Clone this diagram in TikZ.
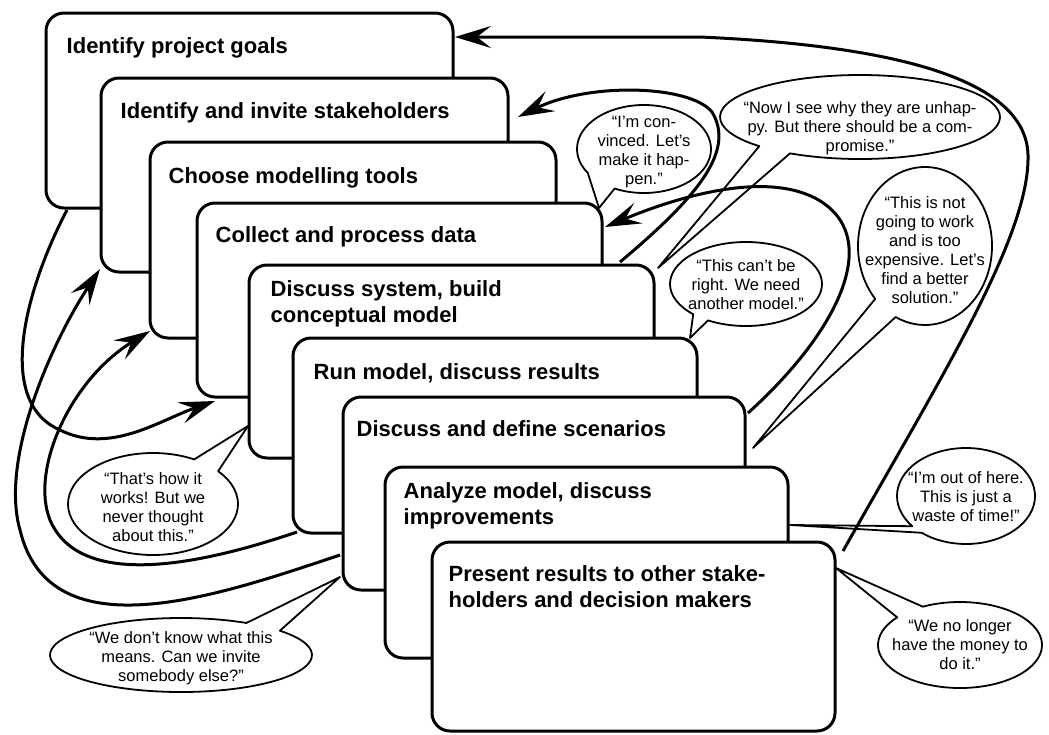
\documentclass[tikz,border=0pt]{standalone}
\usepackage{fontspec}
\setmainfont{Liberation Sans}
\usetikzlibrary{arrows.meta,calc}
\pgfdeclarelayer{bubbles}
\pgfdeclarelayer{links}
\pgfsetlayers{bubbles,links,main}
\begin{document}
\begin{tikzpicture}[x=1pt,y=-1pt,
  box/.style={draw, line width=3pt, fill=white, rounded corners=18pt, anchor=north west, inner sep=0pt, outer sep=0pt},
  boxtext/.style={anchor=north west, inner sep=0pt, font=\fontsize{22}{26}\selectfont\bfseries, align=left},
  bubble/.style={draw, line width=1.8pt, fill=white, line join=round},
  saying/.style={inner sep=0pt, anchor=north, align=center, font=\fontsize{16.5}{19}\selectfont},
  fback/.style={line width=3pt, -{Stealth[length=36pt,width=22pt,inset=14pt]}}]
\useasboundingbox (0,0) rectangle (1049,734);

% stacked process boxes
\node[box, minimum width=407pt, minimum height=195pt] (b1) at (46,13) {};
\node[boxtext] (t1) at (66.5,37) {Identify project goals};
\node[box, minimum width=407pt, minimum height=194pt] (b2) at (101,78) {};
\node[boxtext] (t2) at (120.5,102) {Identify and invite stakeholders};
\node[box, minimum width=406pt, minimum height=196pt] (b3) at (150,142) {};
\node[boxtext] (t3) at (168.5,167) {Choose modelling tools};
\node[box, minimum width=405pt, minimum height=194pt] (b4) at (197,203) {};
\node[boxtext] (t4) at (215.5,226) {Collect and process data};
\node[box, minimum width=405pt, minimum height=193pt] (b5) at (249,265) {};
\node[boxtext] (t5) at (270.5,280) {Discuss system, build\\conceptual model};
\node[box, minimum width=404pt, minimum height=195pt] (b6) at (293,338) {};
\node[boxtext] (t6) at (313.5,363) {Run model, discuss results};
\node[box, minimum width=402pt, minimum height=193pt] (b7) at (343,397) {};
\node[boxtext] (t7) at (356.5,420) {Discuss and define scenarios};
\node[box, minimum width=403pt, minimum height=191pt] (b8) at (385,467) {};
\node[boxtext] (t8) at (403.5,482) {Analyze model, discuss\\improvements};
\node[box, minimum width=403pt, minimum height=189pt] (b9) at (432,542) {};
\node[boxtext] (t9) at (448.5,565) {Present results to other stake-\\holders and decision makers};

% speech bubbles
\begin{pgfonlayer}{bubbles}
\draw[bubble] (644,149) ++(147:67 and 44) arc[start angle=147, end angle=476, x radius=67, y radius=44] -- ($(b4.north east)+(-3,5)$) -- cycle;
\node[saying] (s1) at (644,116) {“I’m con-\\vinced. Let’s\\make it hap-\\pen.”};
\draw[bubble] (860,117) ++(136:140 and 42) arc[start angle=136, end angle=480, x radius=140, y radius=42] -- ($(b5.north east)+(4,3)$) -- cycle;
\node[saying] (s2) at (860,101) {“Now I see why they are unhap-\\py. But there should be a com-\\promise.”};
\draw[bubble] (746,284) ++(134:76 and 42) arc[start angle=134, end angle=480, x radius=76, y radius=42] -- ($(b6.north east)+(-7,0)$) -- cycle;
\node[saying] (s3) at (746,259) {“This can’t be\\right. We need\\another model.”};
\draw[bubble] (925,246) ++(138:67 and 79) arc[start angle=138, end angle=476, x radius=67, y radius=79] -- ($(b7.north east)+(8,51)$) -- cycle;
\node[saying] (s4) at (925,196) {“This is not\\going to work\\and is too\\expensive. Let’s\\find a better\\solution.”};
\draw[bubble] (966,496) ++(141:69 and 48) arc[start angle=141, end angle=490, x radius=69, y radius=48] -- ($(b8.north east)+(2,58)$) -- cycle;
\node[saying] (s5) at (966,471) {“I’m out of here.\\This is just a\\waste of time!”};
\draw[bubble] (960,645) ++(243:82 and 43) arc[start angle=243, end angle=580, x radius=82, y radius=43] -- ($(b9.north east)+(1,26)$) -- cycle;
\node[saying] (s6) at (960,619) {“We no longer\\have the money to\\do it.”};
\draw[bubble] (153,504) ++(320:85 and 51) arc[start angle=320, end angle=659, x radius=85, y radius=51] -- ($(b5.south west)+(-1,-32)$) -- cycle;
\node[saying] (s7) at (153,472) {“That’s how it\\works! But we\\never thought\\about this.”};
\draw[bubble] (181,655) ++(319:131 and 37) arc[start angle=319, end angle=660, x radius=131, y radius=37] -- ($(b7.south west)+(-3,-13)$) -- cycle;
\node[saying] (s8) at (181,631) {“We don’t know what this\\means. Can we invite\\somebody else?”};
\end{pgfonlayer}

% feedback loops
\begin{pgfonlayer}{links}
\draw[fback] ($(b9.north east)+(8,9)$) .. controls (943,374) and (1030,235) .. (1028,155)
  .. controls (1026,75) and (880,45) .. (700,37) -- ($(b1.north east)+(2,24)$);
\draw[fback] ($(b5.north east)+(-34,-3)$) .. controls (700,195) and (735,150) .. (712,112)
  .. controls (690,85) and (590,82) .. ($(b2.north east)+(10,39)$);
\draw[fback] ($(b7.north east)+(3,16)$) .. controls (840,330) and (885,235) .. (815,198)
  .. controls (760,170) and (670,200) .. ($(b4.north east)+(3,24)$);
\draw[fback] ($(b1.south west)+(21,2)$) .. controls (25,290) and (-5,402) .. (60,430)
  .. controls (110,455) and (160,420) .. ($(b4.south west)+(18,4)$);
\draw[fback] ($(b6.south west)+(4,-1)$) .. controls (200,565) and (80,590) .. (50,520)
  .. controls (30,470) and (70,380) .. ($(b3.south west)+(0,-7)$);
\draw[fback] ($(b7.south west)+(-3,-35)$) .. controls (220,595) and (50,655) .. (20,530)
  .. controls (0,460) and (50,345) .. ($(b2.south west)+(-1,-3)$);
\end{pgfonlayer}
\end{tikzpicture}
\end{document}
